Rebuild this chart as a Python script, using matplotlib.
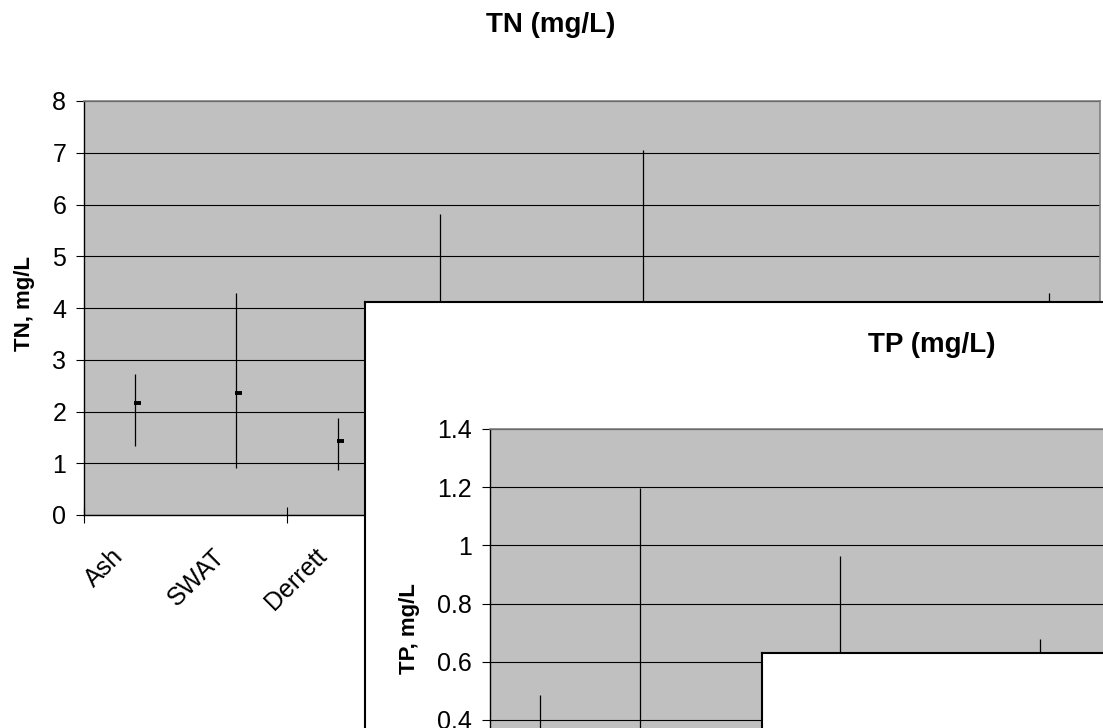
"""
TN / TP high-low-close charts, stacked on top of each other like the
pasted Excel charts in the original report.
"""

import numpy as np
import matplotlib
matplotlib.use("Agg")
import matplotlib.pyplot as plt
from matplotlib.transforms import ScaledTranslation

plt.rcParams['font.family'] = ['Liberation Sans', 'DejaVu Sans']

W, H = 1103, 728

# TN (mg/L): high / low / close per site
# sites after Derrett sit behind the TP chart, names not readable
tn_sites = ["Ash", "SWAT", "Derrett", "", "", "", "", "", "", ""]
tn_high = [2.72, 4.29, 1.87, 5.82, 3.50, 7.05, 3.20, 3.00, 3.80, 4.29]
tn_low = [1.33, 0.91, 0.87, 1.20, 0.90, 1.10, 0.80, 0.70, 1.00, 1.20]
tn_close = [2.16, 2.35, 1.43, 2.50, 1.80, 2.80, 1.60, 1.50, 2.00, 2.30]
tn_yticks = [0, 1, 2, 3, 4, 5, 6, 7, 8]

# TP (mg/L): only the upper part of the chart is visible, no site labels shown
tp_sites = [""] * 10
tp_high = [0.486, 1.197, 0.33, 0.964, 0.58, 0.678, 0.50, 0.45, 0.60, 0.55]
tp_low = [0.12, 0.10, 0.05, 0.15, 0.10, 0.12, 0.08, 0.07, 0.10, 0.09]
tp_close = [0.25, 0.30, 0.15, 0.40, 0.30, 0.35, 0.25, 0.22, 0.30, 0.28]
tp_yticks = [0, 0.2, 0.4, 0.6, 0.8, 1, 1.2, 1.4]


def px_axes(fig, left, top, right, bottom):
    """Add axes given in pixel coords of the picture (y down)"""
    return fig.add_axes([left / W, 1 - bottom / H, (right - left) / W, (bottom - top) / H])


def white_box(fig, left, top, right, bottom):
    """Blank chart area with a black frame"""
    ax = px_axes(fig, left, top, right, bottom)
    ax.set_facecolor('white')
    ax.set_xticks([])
    ax.set_yticks([])
    for s in ax.spines.values():
        s.set_color('black')
        s.set_linewidth(1.5)
    return ax


def draw_hlc(ax, sites, high, low, close, yticks, ylabel, label_x):
    x = np.arange(1, len(high) + 1)
    ax.set_facecolor('#C0C0C0')
    ax.vlines(x, low, high, color='black', lw=0.9, zorder=3)
    ax.hlines(close, x - 0.01, x + 0.06, color='black', lw=2.8, zorder=3)

    ax.set_xlim(0.5, len(high) + 0.5)
    ax.set_ylim(yticks[0], yticks[-1])
    ax.set_yticks(yticks, labels=[f"{v:g}" for v in yticks])
    ax.grid(axis='y', color='black', lw=0.8)
    ax.set_axisbelow(True)

    # major ticks on every second category boundary, labels on the categories
    ax.set_xticks(np.arange(0.5, len(high) + 1, 2), labels=[])
    ax.set_xticks(x, labels=sites, minor=True)
    ax.tick_params(axis='y', direction='out', length=5.8, width=0.8, pad=7,
                   labelsize=18)
    ax.tick_params(axis='x', which='major', direction='inout', length=11.5, width=0.8)
    ax.tick_params(axis='x', which='minor', length=0, pad=27, labelsize=18)
    shift = ScaledTranslation(-0.15, 0, ax.figure.dpi_scale_trans)
    for lab in ax.get_xticklabels(minor=True):
        lab.set_rotation(45)
        lab.set_ha('right')
        lab.set_va('center')
        lab.set_rotation_mode('anchor')
        lab.set_transform(lab.get_transform() + shift)

    ax.spines['top'].set_color('#808080')
    ax.spines['right'].set_color('#808080')
    ax.spines['top'].set_linewidth(1.2)
    ax.spines['right'].set_linewidth(1.2)
    ax.spines['left'].set_linewidth(1.0)
    ax.spines['bottom'].set_linewidth(1.0)

    ax.set_ylabel(ylabel, fontsize=16, fontweight='bold')
    ax.yaxis.set_label_coords(label_x, 0.51)


def main():
    fig = plt.figure(figsize=(W / 100, H / 100), dpi=100)

    ax_tn = px_axes(fig, 84, 101, 1100, 515)
    draw_hlc(ax_tn, tn_sites, tn_high, tn_low, tn_close, tn_yticks,
             'TN, mg/L', -0.048)
    fig.text(551 / W, 1 - 25 / H, 'TN (mg/L)', ha='center', va='center',
             fontsize=20, fontweight='bold')

    # TP chart pasted over the lower right of the TN chart
    white_box(fig, 365, 302, 1250, 950)
    ax_tp = px_axes(fig, 490, 429, 1490, 836.4)
    draw_hlc(ax_tp, tp_sites, tp_high, tp_low, tp_close, tp_yticks,
             'TP, mg/L', -0.070)
    fig.text(932 / W, 1 - 345 / H, 'TP (mg/L)', ha='center', va='center',
             fontsize=20, fontweight='bold')

    # and a third chart over that one
    white_box(fig, 762, 653, 1250, 950)

    fig.savefig('out.png', dpi=100)
    plt.close(fig)


if __name__ == "__main__":
    main()
